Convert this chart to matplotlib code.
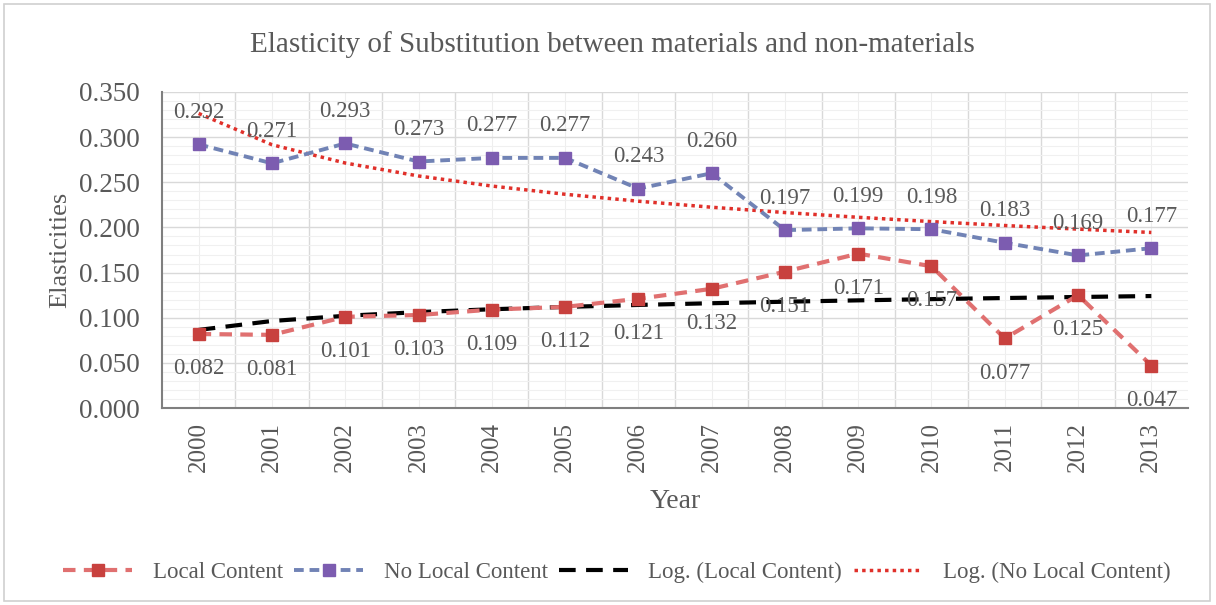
import numpy as np
import matplotlib
matplotlib.use("Agg")
import matplotlib.pyplot as plt
from matplotlib.patches import Rectangle
from matplotlib.ticker import MultipleLocator, FormatStrFormatter

years = ["2000", "2001", "2002", "2003", "2004", "2005", "2006",
         "2007", "2008", "2009", "2010", "2011", "2012", "2013"]
local_content = [0.082, 0.081, 0.101, 0.103, 0.109, 0.112, 0.121,
                 0.132, 0.151, 0.171, 0.157, 0.077, 0.125, 0.047]
no_local_content = [0.292, 0.271, 0.293, 0.273, 0.277, 0.277, 0.243,
                    0.260, 0.197, 0.199, 0.198, 0.183, 0.169, 0.177]

plt.rcParams['font.family'] = ['Liberation Serif', 'DejaVu Serif']
txt = '#595959'

fig = plt.figure(figsize=(12.16, 6.05), dpi=100)
fig.patches.append(Rectangle((4/1216, 4/605), 1 - 10/1216, 1 - 8/605,
                             transform=fig.transFigure, fill=False,
                             edgecolor='#d0d0d0', linewidth=1.2))
ax = fig.add_axes([162/1216, 1 - 408/605, 1026/1216, 316/605])

x = np.arange(len(years))
# Excel-style logarithmic trendlines fitted on the series
lx = np.log(x + 1)
a1, b1 = np.polyfit(lx, local_content, 1)
a2, b2 = np.polyfit(lx, no_local_content, 1)

ax.plot(x, local_content, linestyle=(0, (3, 2)), color='#e07070', lw=3,
        marker='s', ms=9, mfc='#c8413e', mec='#c8413e', zorder=4,
        label='Local Content')
ax.plot(x, no_local_content, linestyle=(0, (2.5, 1.5)), color='#7183b5', lw=2.8,
        marker='s', ms=9, mfc='#7c5cb0', mec='#7c5cb0', zorder=4,
        label='No Local Content')
ax.plot(x, a1 * lx + b1, linestyle=(0, (4, 2.5)), color='black', lw=3,
        zorder=3, label='Log. (Local Content)')
ax.plot(x, a2 * lx + b2, linestyle=(0, (1, 1.2)), color='#e0302a', lw=2.5,
        zorder=3, label='Log. (No Local Content)')

for xi, v in zip(x, local_content):
    ax.annotate(f"{v:.3f}", (xi, v), xytext=(0, -25), textcoords='offset points',
                ha='center', va='center', fontsize=16.5, color=txt, zorder=5)
for xi, v in zip(x, no_local_content):
    ax.annotate(f"{v:.3f}", (xi, v), xytext=(0, 23), textcoords='offset points',
                ha='center', va='center', fontsize=16.5, color=txt, zorder=5)

ax.set_xlim(-0.5, len(years) - 0.5)
ax.set_ylim(0, 0.35)
ax.yaxis.set_major_locator(MultipleLocator(0.05))
ax.yaxis.set_major_formatter(FormatStrFormatter('%.3f'))
ax.set_xticks(x)
ax.set_xticklabels(years, rotation=90)
ax.grid(False)
for xv in np.arange(0.5, len(years) - 0.5, 1.0):
    ax.axvline(xv, color='#d9d9d9', lw=1.0, zorder=0)
for xv in x:
    ax.axvline(xv, color='#eeeeee', lw=0.8, zorder=0)
for yv in np.arange(0.01, 0.355, 0.01):
    if abs(yv / 0.05 - round(yv / 0.05)) < 1e-6:
        ax.axhline(yv, color='#d9d9d9', lw=1.0, zorder=0)
    else:
        ax.axhline(yv, color='#f0f0f0', lw=0.8, zorder=0)

ax.tick_params(axis='both', which='both', length=0, colors=txt)
ax.tick_params(axis='x', pad=10, labelsize=18)
ax.tick_params(axis='y', pad=16, labelsize=19.5)
for s in ['top', 'right']:
    ax.spines[s].set_visible(False)
ax.spines['left'].set_color('#7f7f7f')
ax.spines['bottom'].set_color('#7f7f7f')
ax.spines['left'].set_linewidth(1.5)
ax.spines['bottom'].set_linewidth(1.5)

fig.text((162 + 1026/2)/1216, 1 - 501/605, 'Year', ha='center', va='center',
         fontsize=20, color=txt)
fig.text(60/1216, 1 - 250/605, 'Elasticities', ha='center', va='center',
         rotation=90, fontsize=19, color=txt)
fig.text(612/1216, 1 - 45/605, 'Elasticity of Substitution between materials and non-materials',
         ha='center', va='center', fontsize=21, color=txt)

fig.legend(loc='center', bbox_to_anchor=(617/1216, 1 - 572/605), ncol=4, frameon=False,
           fontsize=16.5, handlelength=3.0, columnspacing=0.5, handletextpad=0.9,
           labelcolor=txt)

fig.savefig('out.png', dpi=100)
